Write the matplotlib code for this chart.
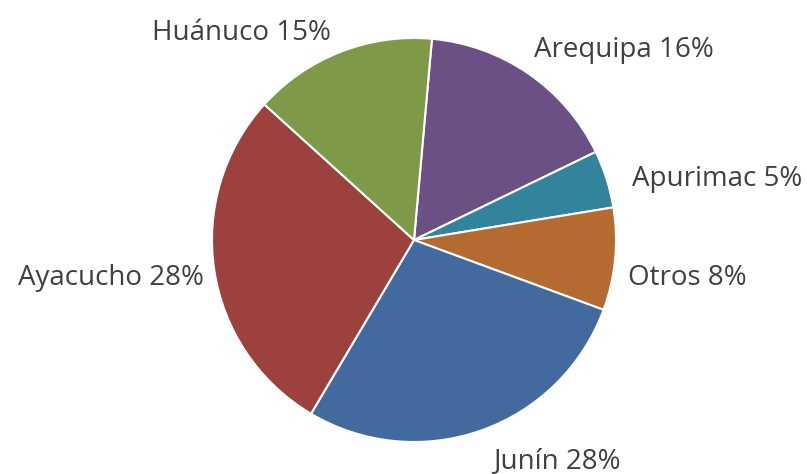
import matplotlib.pyplot as plt

# Data (clockwise from the top)
regions = ['Arequipa', 'Apurimac', 'Otros', 'Junín', 'Ayacucho', 'Huánuco']
shares = [16.4, 4.6, 8.2, 27.9, 28.2, 14.7]
pct_labels = ['16%', '5%', '8%', '28%', '28%', '15%']
colors = ['#6B5086', '#31849B', '#B46A30', '#426A9F', '#9D413F', '#7E9A48']

# label anchor points (pixels, x centre / baseline from top)
label_pos = [(624, 57), (717, 186), (687, 285), (557, 468), (111, 285), (241, 40)]

W, H = 807, 474
fig = plt.figure(figsize=(W / 100, H / 100), dpi=100)
ax = fig.add_axes([0, 0, 1, 1])
ax.set_xlim(0, W)
ax.set_ylim(0, H)
ax.axis('off')

ax.pie(shares, colors=colors, startangle=84.9, counterclock=False,
       center=(414, H - 240), radius=202, frame=True,
       wedgeprops=dict(edgecolor='white', linewidth=1.5))
ax.set_xlim(0, W)
ax.set_ylim(0, H)
ax.axis('off')

for name, pct, (x, y) in zip(regions, pct_labels, label_pos):
    ax.text(x, H - y, f'{name} {pct}', ha='center', va='baseline',
            fontsize=20, color='#404040', family='Open Sans')

fig.savefig('out.png', dpi=100)
